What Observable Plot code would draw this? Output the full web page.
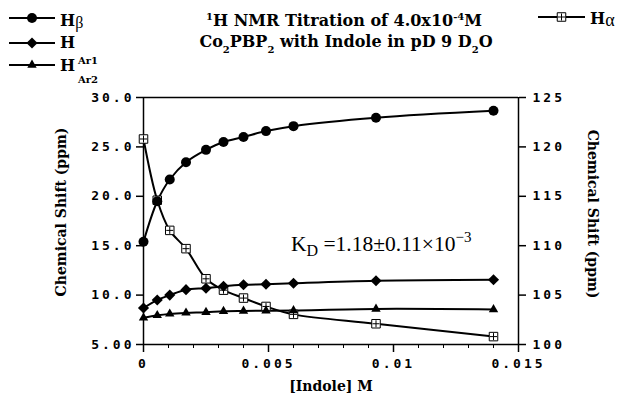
<!DOCTYPE html>
<html><head><meta charset="utf-8">
<script src="https://cdn.jsdelivr.net/npm/d3@7"></script>
<script src="https://cdn.jsdelivr.net/npm/@observablehq/plot@0.6"></script>
<style>body{margin:0;background:#fff;} svg{display:block;}</style>
</head><body><div id="chart"></div>
<script>
// ---- data ----
const conc   = [0, 0.00055, 0.00105, 0.0017, 0.0025, 0.0032, 0.004, 0.0049, 0.006, 0.0093, 0.014];
const hBeta  = [15.4, 19.5, 21.7, 23.45, 24.7, 25.5, 26.0, 26.6, 27.1, 27.95, 28.65];
const hAr1   = [8.7, 9.5, 10.0, 10.55, 10.7, 10.9, 11.05, 11.1, 11.2, 11.45, 11.55];
const hAr2   = [7.7, 7.95, 8.1, 8.2, 8.27, 8.37, 8.4, 8.42, 8.45, 8.6, 8.55];
const hAlpha = [120.8, 114.6, 111.55, 109.7, 106.65, 105.5, 104.7, 103.85, 103.05, 102.1, 100.8]; // right axis (ppm)
const leftTicks  = [5, 10, 15, 20, 25, 30];
const rightTicks = [100, 105, 110, 115, 120, 125];
const xTicks     = [0, 0.005, 0.01, 0.015];
const xMinor     = [0.001, 0.002, 0.003, 0.004, 0.006, 0.007, 0.008, 0.009, 0.011, 0.012, 0.013, 0.014];
const RIGHT_OFFSET = 95; // right axis value - left axis value

const rows = conc.map((c, i) => ({c, beta: hBeta[i], ar1: hAr1[i], ar2: hAr2[i], alpha: hAlpha[i]}));

const LW = 2;
const plot = Plot.plot({
  width: 619, height: 397,
  marginLeft: 143, marginRight: 101, marginTop: 97, marginBottom: 53,
  x: {domain: [0, 0.015]},
  y: {domain: [5, 30]},
  style: {fontFamily: "DejaVu Sans Mono", fontWeight: "bold", fontSize: "13px", color: "black", background: "white", overflow: "visible"},
  marks: [
    Plot.ruleY([30], {stroke: "black", strokeWidth: 1.5}),
    Plot.ruleY([5], {stroke: "black", strokeWidth: 1.5}),
    Plot.ruleX([0, 0.015], {stroke: "black", strokeWidth: 1.5}),
    Plot.axisY(leftTicks, {anchor: "left", tickSize: 7, tickPadding: 2, tickFormat: d3.format(".3r"), label: null, strokeWidth: 1.5}),
    Plot.axisY(rightTicks.map(v => v - RIGHT_OFFSET), {anchor: "right", tickSize: 7, tickPadding: 7, tickFormat: d => String(d + RIGHT_OFFSET), label: null, strokeWidth: 1.5}),
    Plot.axisX(xTicks, {anchor: "bottom", tickSize: 8, tickPadding: 6, tickFormat: d => String(d), label: null, strokeWidth: 1.5}),
    Plot.axisX(xMinor, {anchor: "bottom", tickSize: 4, text: null, label: null, strokeWidth: 1}),
    Plot.line(rows, {x: "c", y: d => d.alpha - RIGHT_OFFSET, curve: "catmull-rom", stroke: "black", strokeWidth: LW}),
    Plot.line(rows, {x: "c", y: "beta", curve: "catmull-rom", stroke: "black", strokeWidth: LW}),
    Plot.line(rows, {x: "c", y: "ar1", curve: "catmull-rom", stroke: "black", strokeWidth: LW}),
    Plot.line(rows, {x: "c", y: "ar2", curve: "catmull-rom", stroke: "black", strokeWidth: LW}),
    Plot.dot(rows, {x: "c", y: d => d.alpha - RIGHT_OFFSET, symbol: "square", r: 4.8, fill: "white", stroke: "black", strokeWidth: 1}),
    Plot.dot(rows, {x: "c", y: d => d.alpha - RIGHT_OFFSET, symbol: "plus", r: 2.4, stroke: "black", strokeWidth: 1}),
    Plot.dot(rows, {x: "c", y: "beta", symbol: "circle", r: 5, fill: "black", stroke: "none"}),
    Plot.dot(rows, {x: "c", y: "ar1", symbol: "diamond2", r: 5, fill: "black", stroke: "none"}),
    Plot.dot(rows, {x: "c", y: "ar2", symbol: "triangle", r: 3.5, fill: "black", stroke: "none"})
  ]
});
document.getElementById("chart").appendChild(plot);

const svg = d3.select(plot);
svg.selectAll('g[aria-label$="tick label"] text').attr("letter-spacing", "3px");

const SERIF = "'DejaVu Serif', serif";
const TIMES = "'Liberation Serif', serif";

function rich(x, y, parts, opts = {}) {
  const fam = opts.family || SERIF;
  const t = svg.append("text").attr("x", x).attr("y", y)
    .attr("text-anchor", opts.anchor || "start")
    .style("font-family", fam)
    .style("font-weight", opts.weight || "bold")
    .style("font-size", (opts.size || 14) + "px")
    .style("letter-spacing", "0px")
    .attr("fill", "black");
  if (opts.transform) t.attr("transform", opts.transform);
  let cur = 0;
  for (const p of parts) {
    const s = t.append("tspan").text(p.t);
    const target = p.dy || 0;
    if (target !== cur) { s.attr("dy", target - cur); cur = target; }
    if (p.size) s.style("font-size", p.size + "px");
    if (p.family) s.style("font-family", p.family);
    if (p.weight) s.style("font-weight", p.weight);
  }
  return t;
}

// Title
rich(344, 26, [
  {t: "1", dy: -6, size: 10}, {t: "H NMR Titration of 4.0x10"}, {t: "-4", dy: -6, size: 10}, {t: "M"}
], {anchor: "middle", size: 16});
rich(346, 47, [
  {t: "Co"}, {t: "2", dy: 6, size: 10}, {t: "PBP"}, {t: "2", dy: 6, size: 10},
  {t: " with Indole in pD 9 D"}, {t: "2", dy: 6, size: 10}, {t: "O"}
], {anchor: "middle", size: 16});

// Legend
function legendItem(x1, x2, y, sym, r, fill) {
  svg.append("line").attr("x1", x1).attr("x2", x2).attr("y1", y).attr("y2", y)
    .attr("stroke", "black").attr("stroke-width", LW);
  const cx = (x1 + x2) / 2;
  svg.append("path").attr("transform", `translate(${cx},${y})`)
    .attr("d", d3.symbol(sym, Math.PI * r * r)()).attr("fill", fill).attr("stroke", fill === "white" ? "black" : "none");
  if (fill === "white") {
    svg.append("path").attr("transform", `translate(${cx},${y})`)
      .attr("d", d3.symbol(d3.symbolPlus, Math.PI * 2.4 * 2.4)()).attr("fill", "none").attr("stroke", "black");
  }
}
legendItem(9, 55, 18, d3.symbolCircle, 5, "black");
legendItem(9, 55, 43, d3.symbolDiamond2, 5, "black");
legendItem(9, 55, 65, d3.symbolTriangle, 3.5, "black");
legendItem(538, 585, 17, d3.symbolSquare, 4.8, "white");

rich(60, 26, [{t: "H"}, {t: "\u03B2", weight: "normal", family: TIMES, dy: 2}], {size: 16});
rich(60, 48, [{t: "H"}], {size: 16});
rich(78, 64, [{t: "Ar1"}], {size: 10});
rich(60, 71, [{t: "H"}], {size: 16});
rich(78, 83, [{t: "Ar2"}], {size: 10});
rich(590, 24, [{t: "H"}, {t: "\u03B1", weight: "normal", family: TIMES, dy: 2, size: 18}], {size: 16});

// Axis titles
rich(0, 0, [{t: "Chemical Shift (ppm)"}], {anchor: "middle", size: 14, transform: "translate(66,212) rotate(-90)"});
rich(0, 0, [{t: "Chemical Shift (ppm)"}], {anchor: "middle", size: 14, transform: "translate(588,214) rotate(90)"});
rich(331, 391, [{t: "[Indole] M"}], {anchor: "middle", size: 14});

// K_D annotation
rich(291, 251, [
  {t: "K"}, {t: "D", dy: 5, size: 16}, {t: " =1.18\u00B10.11\u00D710", dy: 0}, {t: "\u22123", dy: -9, size: 15}
], {family: TIMES, weight: "normal", size: 21.5});
</script>
</body></html>
